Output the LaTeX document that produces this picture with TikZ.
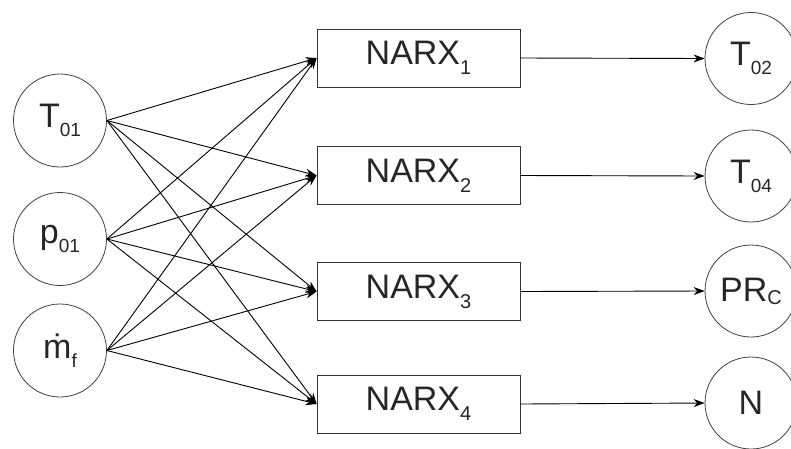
\documentclass[tikz,border=0pt]{standalone}
\usepackage{fontspec}
\setmainfont{Liberation Sans}
\usetikzlibrary{arrows.meta}
\newcommand{\bigf}{\fontsize{34}{34}\selectfont}
\newcommand{\subA}[1]{\raisebox{-10pt}{\fontsize{20}{20}\selectfont #1}}
\newcommand{\subB}[1]{\raisebox{-9pt}{\fontsize{19}{19}\selectfont #1}}
\begin{document}
\begin{tikzpicture}[x=1pt,y=-1pt,
  inc/.style={circle,draw=black!75,line width=0.8pt,minimum size=93pt,inner sep=0pt,font=\bigf,text=black!85},
  narx/.style={rectangle,draw=black!80,line width=0.9pt,minimum width=203pt,minimum height=58pt,inner sep=0pt,font=\bigf,text=black!85},
  conn/.style={line width=0.9pt,-{Stealth[length=11pt,width=8pt]}}]
\useasboundingbox (0,0) rectangle (791,448);
\node[inc] (i1) at (60,120.5) {T\subB{01}};
\node[inc] (i2) at (60,239) {p\subB{01}};
\node[inc] (i3) at (60,350.5) {\.{m}\subB{f}};
\node[narx] (b1) at (418.5,58) {NARX\subA{1}};
\node[narx] (b2) at (418.5,175.5) {NARX\subA{2}};
\node[narx] (b3) at (418.5,291.5) {NARX\subA{3}};
\node[narx] (b4) at (418.5,404) {NARX\subA{4}};
\node[inc,minimum size=92pt] (o1) at (751,58.5) {T\subB{02}};
\node[inc,minimum size=92pt] (o2) at (751,176) {T\subB{04}};
\node[inc,minimum size=92pt] (o3) at (751,291) {PR\raisebox{-3pt}{\fontsize{20}{20}\selectfont C}};
\node[inc,minimum size=92pt] (o4) at (751,403) {N};
\foreach \i in {1,2,3}{
  \foreach \j in {1,2,3,4}{
    \draw[conn] (i\i.east) -- (b\j.west);
  }
}
\foreach \j in {1,2,3,4}{
  \draw[conn] (b\j.east) -- (o\j.west);
}
\end{tikzpicture}
\end{document}
